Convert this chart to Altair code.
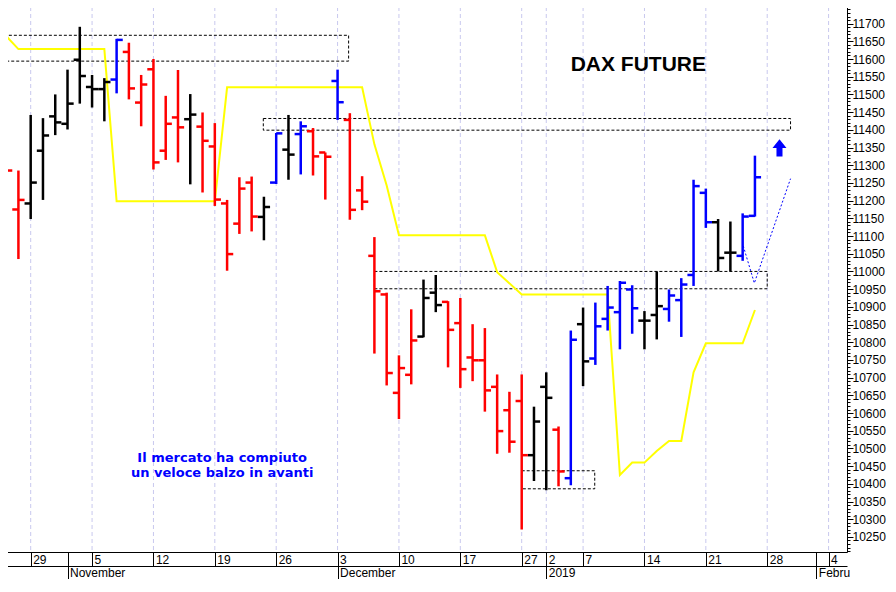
import json
import altair as alt
import pandas as pd

# ---- OHLC data, one entry per trading day (index 0 = 25 Oct 2018 ... 61 = 25 Jan 2019)
opens  = [11107, 11175, 11192, 11341, 11438, 11417, 11598, 11521, 11515, 11542,
          11620, 11477, 11571, 11341, 11435, 11430, 11409, 11353, 11192, 11135,
          11251, 11154, 11251, 11344, 11388, 11396, 11336, 11538, 11428, 11229,
          11044, 10935, 10657, 10708, 10816, 10940, 10914, 10854, 10757, 10749,
          10674, 10608, 10634, 10481, 10674, 10553, 10416, 10851, 10754, 10866,
          10885, 10949, 10861, 10877, 10894, 10919, 10990, 11222, 11139, 11053,
          11044, 11157]
highs  = [11370, 11285, 11442, 11433, 11500, 11570, 11691, 11555, 11546, 11657,
          11646, 11555, 11600, 11496, 11569, 11501, 11449, 11419, 11202, 11266,
          11268, 11211, 11391, 11442, 11424, 11405, 11336, 11570, 11447, 11269,
          11097, 10940, 10763, 10893, 10977, 10990, 10916, 10925, 10851, 10840,
          10709, 10660, 10709, 10618, 10715, 10562, 10833, 10898, 10912, 10959,
          10973, 10961, 10888, 11000, 10949, 10981, 11259, 11234, 11148, 11141,
          11164, 11327]
lows   = [11070, 11035, 11148, 11202, 11385, 11401, 11474, 11463, 11424, 11503,
          11486, 11410, 11288, 11315, 11308, 11246, 11223, 11185, 11002, 11106,
          11113, 11088, 11247, 11259, 11274, 11271, 11203, 11428, 11146, 11173,
          10768, 10678, 10583, 10681, 10814, 10885, 10729, 10671, 10690, 10604,
          10485, 10488, 10271, 10408, 10382, 10393, 10396, 10676, 10736, 10833,
          10780, 10824, 10780, 10808, 10858, 10815, 10959, 11123, 11000, 11000,
          11030, 11155]
closes = [11285, 11202, 11251, 11384, 11421, 11474, 11552, 11515, 11535, 11654,
          11517, 11528, 11308, 11417, 11407, 11443, 11369, 11203, 11049, 11234,
          11155, 11182, 11390, 11330, 11410, 11325, 11324, 11478, 11174, 11197,
          10944, 10713, 10727, 10805, 10925, 10905, 10835, 10724, 10749, 10664,
          10549, 10519, 10481, 10576, 10643, 10435, 10807, 10746, 10845, 10898,
          10968, 10896, 10861, 10902, 10932, 10963, 11241, 11139, 11038, 11053,
          11155, 11266]
trend  = (["r"] * 2 + ["k"] * 7 + ["b"] + ["r"] * 5 + ["k"] + ["r"] * 5 + ["k", "b", "k", "b"]
          + ["r"] * 2 + ["b"] + ["r"] * 6 + ["k"] * 2 + ["r"] * 7 + ["k"] * 2 + ["r", "b", "k"]
          + ["b"] * 4 + ["k"] * 2 + ["b"] * 4 + ["k"] * 2 + ["b"] * 2)

# ---- yellow stop line (day index, level)
stop_idx = [-1, 0, 1, 8, 9, 17, 18, 29, 30, 31, 32, 39, 40, 42, 49, 50, 51, 52,
            53, 54, 55, 56, 57, 60, 61]
stop_val = [11665, 11665, 11628, 11628, 11198, 11198, 11520, 11520, 11359, 11243,
            11102, 11102, 10998, 10935, 10935, 10425, 10460, 10460, 10493, 10521,
            10521, 10715, 10797, 10797, 10891]

# ---- blue dotted projection
proj_idx = [60.05, 60.95, 63.9]
proj_val = [11072, 10967, 11262]

# ---- dashed zones
zone_x1 = [-1, 20.95, 30.0, 42.0]
zone_x2 = [27.9, 63.9, 62.0, 47.95]
zone_top = [11667, 11432, 11000, 10437]
zone_bot = [11594, 11399, 10951, 10386]

# ---- axis labels
week_idx = [2, 7, 12, 17, 22, 27, 32, 37, 42, 44, 47, 52, 57, 62, 67]
week_lab = ["29", "5", "12", "19", "26", "3", "10", "17", "27", "2", "7", "14", "21", "28", "4"]
month_idx = [5, 27, 44, 66]
month_lab = ["November", "December", "2019", "Febru"]
y_major = list(range(10250, 11751, 50))
y_minor = list(range(10210, 11761, 10))

title_txt = ["DAX FUTURE"]
title_pos = [(51.5, 11583)]
note_txt = ["Il mercato ha compiuto", "un veloce balzo in avanti"]
note_pos = [(17.6, 10474), (17.6, 10431)]
arrow_pos = [(63.0, 11349)]

FONT = "Liberation Sans"
W, H = 847, 552          # plot area
DAY_ROW, MONTH_ROW = 14, 13

xs = alt.Scale(domain=[-0.5, 68.5], nice=False, zero=False)
ys = alt.Scale(domain=[10207.5, 11766.7], nice=False, zero=False)
cs = alt.Scale(domain=["r", "k", "b"], range=["#ff0000", "#000000", "#0000ff"])

day_vals = sorted(set(week_idx) | set(month_idx))
day_map = dict(zip(week_idx, week_lab))
day_labs = [day_map.get(v, "") for v in day_vals]

common_lab = dict(labelFont=FONT, labelFontSize=12, labelColor="black",
                  labelOverlap=False, labelBound=False, labelFlush=False, title=None)

day_axis = alt.Axis(values=day_vals,
                    labelExpr=f"{json.dumps(day_labs)}[indexof({json.dumps(day_vals)}, datum.value)]",
                    orient="bottom", grid=False, domain=True, domainColor="black",
                    domainWidth=1, ticks=True, tickColor="black", tickWidth=1, tickSize=DAY_ROW,
                    labelAlign="left", labelBaseline="top", labelOffset=2, labelPadding=-12,
                    **common_lab)
month_axis = alt.Axis(values=month_idx,
                      labelExpr=f"{json.dumps(month_lab)}[indexof({json.dumps(month_idx)}, datum.value)]",
                      orient="bottom", offset=DAY_ROW, grid=False, domain=True, domainColor="black",
                      domainWidth=1, ticks=True, tickColor="black", tickWidth=1, tickSize=MONTH_ROW,
                      labelAlign="left", labelBaseline="top", labelOffset=2, labelPadding=-12,
                      **common_lab)
y_axis = alt.Axis(values=y_major, orient="right",
                  labelExpr="datum.value <= 11700 ? format(datum.value, 'd') : ''",
                  grid=False, domain=True, domainColor="black", ticks=True, tickColor="black",
                  tickSize=6, tickWidth=1, labelPadding=-1, labelAlign="left", **common_lab)
y_minor_axis = alt.Axis(values=y_minor, orient="right", labels=False, grid=False,
                        domain=False, ticks=True, tickColor="black", tickSize=3, tickWidth=1,
                        title=None)

ohlc = pd.DataFrame({"i": list(range(len(opens))), "o": opens, "h": highs,
                     "l": lows, "c": closes, "t": trend})

grid = alt.Chart(pd.DataFrame({"i": week_idx})).mark_rule(
    color="#c8c8ee", strokeDash=[4, 3], strokeWidth=1
).encode(x=alt.X("i:Q", scale=xs, axis=day_axis))

month_layer = alt.Chart(pd.DataFrame({"i": month_idx})).mark_rule(opacity=0).encode(
    x=alt.X("i:Q", scale=xs, axis=month_axis))

minor_layer = alt.Chart(pd.DataFrame({"v": y_minor})).mark_rule(opacity=0).encode(
    y=alt.Y("v:Q", scale=ys, axis=y_minor_axis))

zones = alt.Chart(pd.DataFrame({"x1": zone_x1, "x2": zone_x2, "y1": zone_top, "y2": zone_bot})).mark_rect(
    fillOpacity=0, stroke="black", strokeDash=[3, 2], strokeWidth=1, clip=True
).encode(x=alt.X("x1:Q", scale=xs, axis=None), x2="x2:Q",
         y=alt.Y("y1:Q", scale=ys, axis=None), y2="y2:Q")

stop = alt.Chart(pd.DataFrame({"i": stop_idx, "v": stop_val})).mark_line(
    color="#ffff00", strokeWidth=2, clip=True
).encode(x=alt.X("i:Q", scale=xs, axis=None), y=alt.Y("v:Q", scale=ys, axis=None), order="i:Q")

col = alt.Color("t:N", scale=cs, legend=None)
vert = alt.Chart(ohlc).mark_rule(strokeWidth=2.5, clip=True).encode(
    x=alt.X("i:Q", scale=xs, axis=None),
    y=alt.Y("l:Q", scale=ys, axis=y_axis), y2="h:Q", color=col)
open_t = alt.Chart(ohlc).transform_calculate(xa="datum.i - 0.5").mark_rule(strokeWidth=2.5, clip=True).encode(
    x=alt.X("xa:Q", scale=xs, axis=None), x2="i:Q",
    y=alt.Y("o:Q", scale=ys, axis=None), color=col)
close_t = alt.Chart(ohlc).transform_calculate(xb="datum.i + 0.5").mark_rule(strokeWidth=2.5).encode(
    x=alt.X("i:Q", scale=xs, axis=None), x2="xb:Q",
    y=alt.Y("c:Q", scale=ys, axis=None), color=col)

proj = alt.Chart(pd.DataFrame({"i": proj_idx, "v": proj_val})).mark_line(
    color="#0000ff", strokeDash=[2, 2], strokeWidth=1
).encode(x=alt.X("i:Q", scale=xs, axis=None), y=alt.Y("v:Q", scale=ys, axis=None), order="i:Q")

ARROW = "M0,-1.23L1,0L0.43,0L0.43,1.24L-0.43,1.24L-0.43,0L-1,0Z"
arrow = alt.Chart(pd.DataFrame({"i": [p[0] for p in arrow_pos], "v": [p[1] for p in arrow_pos]})).mark_point(
    shape=ARROW, size=196, filled=True, color="#0000ff", opacity=1, strokeWidth=0
).encode(x=alt.X("i:Q", scale=xs, axis=None), y=alt.Y("v:Q", scale=ys, axis=None))

title = alt.Chart(pd.DataFrame({"i": [p[0] for p in title_pos], "v": [p[1] for p in title_pos], "t": title_txt})).mark_text(
    font=FONT, fontSize=21, fontWeight="bold", color="black", baseline="middle", align="center"
).encode(x=alt.X("i:Q", scale=xs, axis=None), y=alt.Y("v:Q", scale=ys, axis=None), text="t:N")

note = alt.Chart(pd.DataFrame({"i": [p[0] for p in note_pos], "v": [p[1] for p in note_pos], "t": note_txt})).mark_text(
    font="DejaVu Sans", fontSize=13, fontWeight="bold", color="#0000ff", baseline="middle", align="center"
).encode(x=alt.X("i:Q", scale=xs, axis=None), y=alt.Y("v:Q", scale=ys, axis=None), text="t:N")

# svg: 880 x 571 so that the page (8px margins) is never wider/taller than the window
chart = alt.layer(
    grid, month_layer, minor_layer, zones, stop, vert, open_t, close_t, proj, arrow, title, note
).resolve_axis(x="independent", y="independent").properties(
    width=W, height=H,
    autosize=alt.AutoSizeParams(type="none"),
    padding={"left": -8, "top": -8, "right": 880 - (W - 8), "bottom": 571 - (H - 8)},
).configure_view(stroke=None)

chart.save("out.html", embed_options={"renderer": "svg", "actions": False})
